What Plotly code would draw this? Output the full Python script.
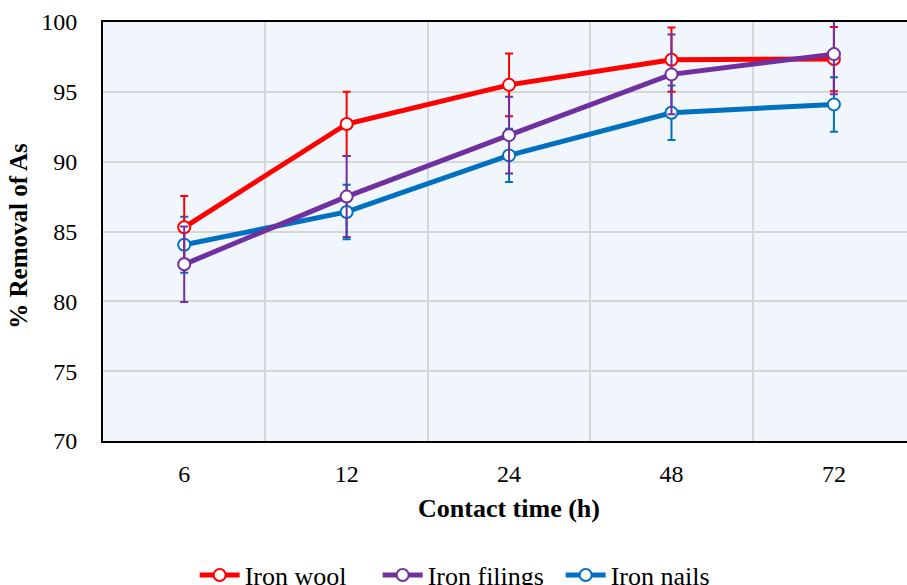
import plotly.graph_objects as go

categories = ["6", "12", "24", "48", "72"]
series_names = ["Iron wool", "Iron filings", "Iron nails"]
iron_wool = [85.3, 92.7, 95.5, 97.3, 97.35]
iron_wool_err = [2.25, 2.3, 2.25, 2.3, 2.3]
iron_filings = [82.65, 87.5, 91.9, 96.25, 97.7]
iron_filings_err = [2.7, 2.9, 2.75, 2.85, 2.87]
iron_nails = [84.05, 86.4, 90.45, 93.5, 94.1]
iron_nails_err = [2.0, 1.95, 1.9, 1.95, 1.95]
y_ticks = [70, 75, 80, 85, 90, 95, 100]
x_title = "Contact time (h)"
y_title = "% Removal of As"

colors = ["#FF0000", "#7030A0", "#0070C0"]
values = [iron_wool, iron_filings, iron_nails]
errs = [iron_wool_err, iron_filings_err, iron_nails_err]

FF = "Liberation Serif, serif"

x_idx = list(range(len(categories)))
fig = go.Figure()
order = [2, 0, 1]
ranks = {0: 1, 1: 2, 2: 3}
for i in order:
    fig.add_trace(go.Scatter(
        x=x_idx, y=values[i], name=series_names[i], mode="lines+markers",
        line=dict(color=colors[i], width=5),
        marker=dict(symbol="circle", size=12, color="white",
                    line=dict(color=colors[i], width=2)),
        error_y=dict(type="data", array=errs[i], visible=True,
                     color=colors[i], thickness=2, width=4),
        legendrank=ranks[i], cliponaxis=True,
    ))

fig.update_layout(
    width=907, height=585,
    margin=dict(l=103, r=0, t=22, b=144, autoexpand=False),
    paper_bgcolor="white", plot_bgcolor="#F0F6FB",
    font=dict(family=FF, size=24, color="black"),
    showlegend=True,
    legend=dict(orientation="h", x=0.114, xanchor="left", y=-0.32,
                yanchor="middle", font=dict(size=26, family=FF, color="black"),
                itemwidth=40, tracegroupgap=0, entrywidth=128,
                entrywidthmode="pixels"),
    xaxis=dict(
        range=[-0.5, 4.45], tickmode="array", tickvals=x_idx,
        ticktext=categories, showgrid=False, zeroline=False,
        showline=True, linecolor="black", linewidth=2, mirror=True,
        ticks="", tickfont=dict(size=24, family=FF, color="black"),
        ticklabelstandoff=10, automargin=False,
        minor=dict(tickmode="array", tickvals=[0.5, 1.5, 2.5, 3.5],
                   showgrid=True, gridcolor="#D6D6D6", gridwidth=2),
    ),
    yaxis=dict(
        range=[70, 100], tickmode="array", tickvals=y_ticks,
        showgrid=True, gridcolor="#D6D6D6", gridwidth=2, zeroline=False,
        showline=True, linecolor="black", linewidth=2, mirror=True,
        ticks="", tickfont=dict(size=24, family=FF, color="black"),
        ticklabelstandoff=19, automargin=False,
    ),
    annotations=[
        dict(text="<b>" + x_title + "</b>", xref="x", yref="paper",
             x=2, y=0, xanchor="center", yanchor="middle", yshift=-67,
             showarrow=False, font=dict(size=26, family=FF, color="black")),
        dict(text="<b>" + y_title + "</b>", xref="paper", yref="paper",
             x=0, y=0.49, xanchor="center", yanchor="middle", xshift=-84,
             textangle=-90, showarrow=False,
             font=dict(size=25, family=FF, color="black")),
    ],
)

fig.write_html("out.html", config={"displayModeBar": False},
               post_script="document.body.style.margin='0';")
